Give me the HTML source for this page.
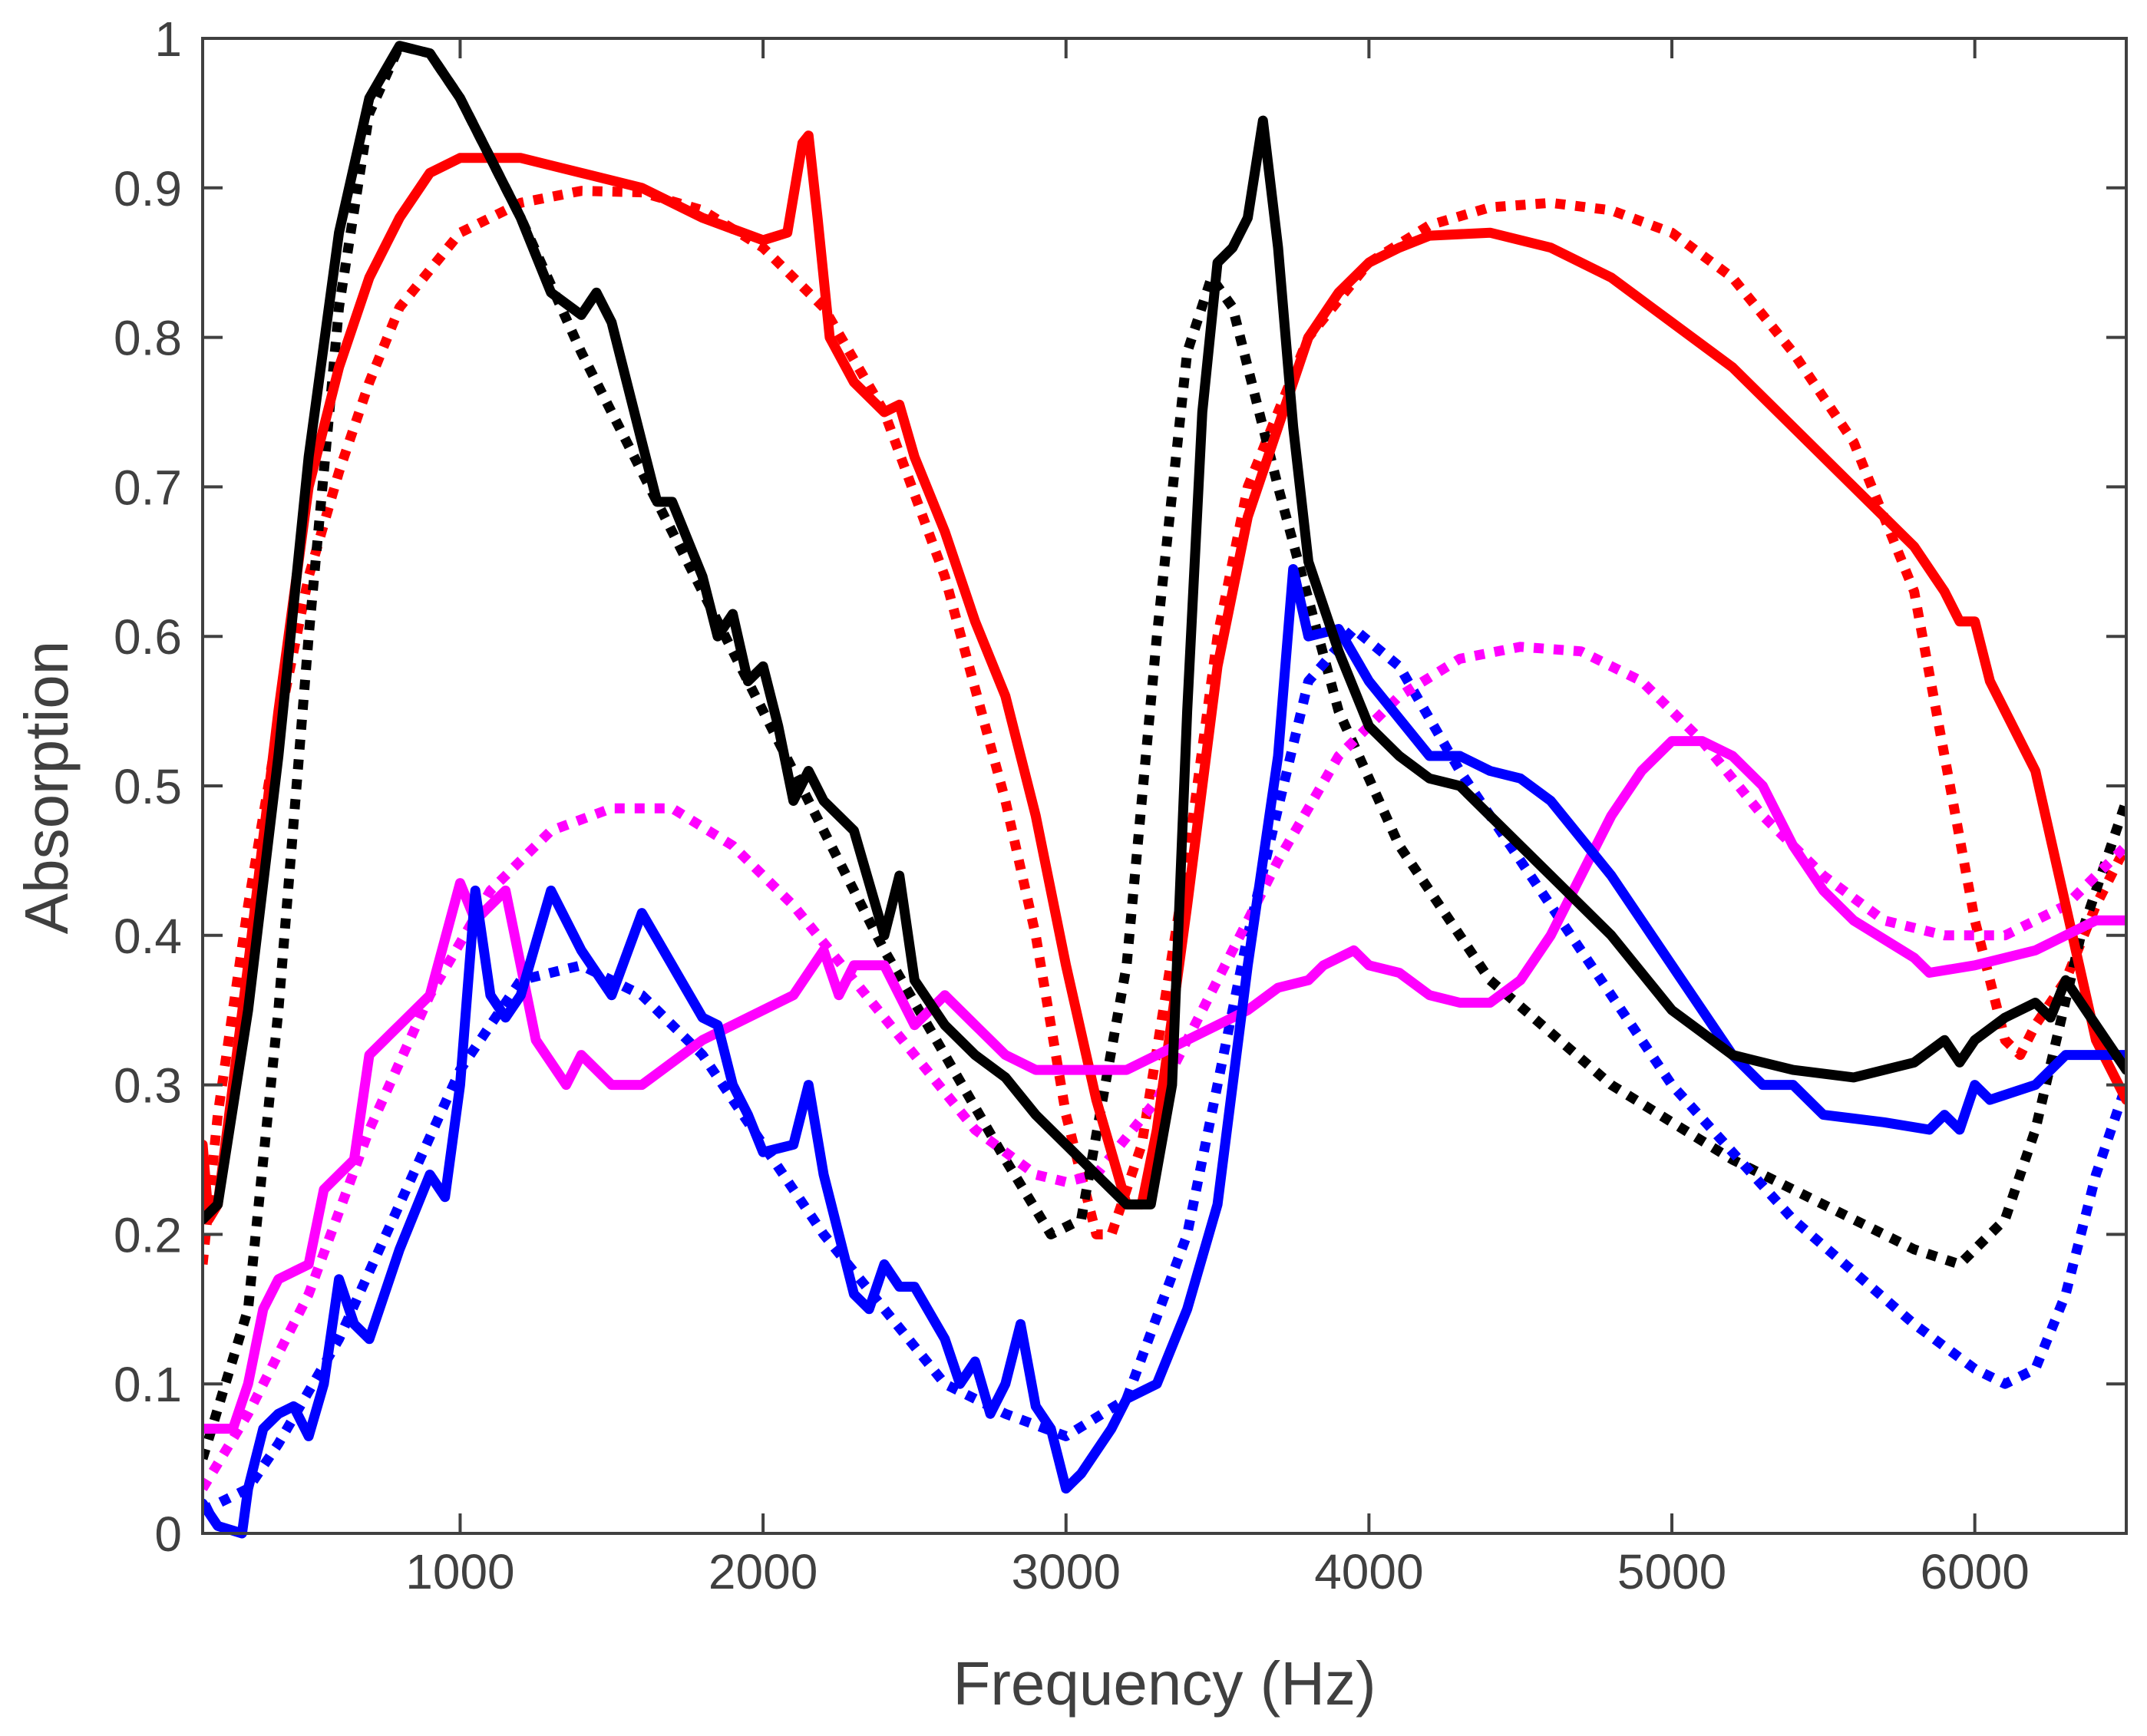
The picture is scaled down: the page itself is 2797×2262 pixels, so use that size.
<!DOCTYPE html>
<html><head><meta charset="utf-8"><style>
html,body{margin:0;padding:0;background:#fff}
svg{display:block}
text{font-family:"Liberation Sans",Arial,sans-serif;fill:#404040}
</style></head><body>
<svg id="chart" width="2797" height="2262" viewBox="0 0 2797 2262" xmlns="http://www.w3.org/2000/svg">
<g id="series"></g>
<g id="axes"></g>
<text x="1517" y="2221" font-size="80" text-anchor="middle">Frequency (Hz)</text>
<text transform="translate(88,1026) rotate(-90)" font-size="80" text-anchor="middle">Absorption</text>
</svg>
<script>
const xTicks=[1000,2000,3000,4000,5000,6000];
const yTicks=[0,0.1,0.2,0.3,0.4,0.5,0.6,0.7,0.8,0.9,1];
const yTickLabels=["0","0.1","0.2","0.3","0.4","0.5","0.6","0.7","0.8","0.9","1"];
const redSolidF=[150,170,200,300,400,500,600,700,800,900,1000,1200,1400,1600,1800,2000,2080,2130,2150,2180,2220,2300,2400,2450,2500,2600,2700,2800,2900,3000,3100,3200,3250,3300,3400,3500,3600,3700,3800,3900,4000,4100,4200,4400,4600,4800,5000,5200,5400,5600,5800,5900,5950,6000,6050,6200,6300,6400,6500];
const redSolidV=[0.26,0.21,0.22,0.38,0.55,0.70,0.78,0.84,0.88,0.91,0.92,0.92,0.91,0.90,0.88,0.865,0.87,0.93,0.935,0.88,0.80,0.77,0.75,0.755,0.72,0.67,0.61,0.56,0.48,0.38,0.29,0.22,0.22,0.27,0.42,0.58,0.68,0.74,0.80,0.83,0.85,0.86,0.868,0.87,0.86,0.84,0.81,0.78,0.74,0.70,0.66,0.63,0.61,0.61,0.57,0.51,0.42,0.33,0.29];
const redDotF=[150,200,300,400,500,600,700,800,1000,1200,1400,1600,1800,2000,2200,2400,2600,2800,2900,3000,3100,3150,3250,3400,3500,3600,3800,4000,4200,4400,4600,4800,5000,5200,5400,5600,5800,5900,6000,6100,6150,6200,6300,6400,6500];
const redDotV=[0.18,0.28,0.42,0.54,0.64,0.71,0.77,0.82,0.87,0.89,0.898,0.897,0.885,0.86,0.82,0.75,0.64,0.49,0.40,0.28,0.20,0.20,0.26,0.45,0.60,0.70,0.80,0.85,0.875,0.887,0.89,0.885,0.87,0.84,0.79,0.73,0.63,0.52,0.41,0.33,0.32,0.34,0.37,0.42,0.46];
const blackSolidF=[150,200,300,400,500,600,700,800,900,1000,1100,1200,1300,1400,1450,1500,1600,1650,1700,1800,1850,1900,1950,2000,2050,2100,2150,2200,2300,2400,2450,2500,2600,2700,2800,2900,3000,3100,3200,3280,3350,3400,3450,3500,3550,3600,3650,3700,3750,3800,3900,4000,4100,4200,4300,4400,4600,4800,5000,5200,5400,5600,5800,5900,5950,6000,6100,6200,6250,6300,6400,6500];
const blackSolidV=[0.21,0.22,0.35,0.52,0.72,0.87,0.96,0.995,0.99,0.96,0.92,0.88,0.83,0.815,0.83,0.81,0.73,0.69,0.69,0.64,0.60,0.615,0.57,0.58,0.54,0.49,0.51,0.49,0.47,0.40,0.44,0.37,0.34,0.32,0.305,0.28,0.26,0.24,0.22,0.22,0.30,0.55,0.75,0.85,0.86,0.88,0.945,0.86,0.74,0.65,0.59,0.54,0.52,0.505,0.50,0.48,0.44,0.40,0.35,0.32,0.31,0.305,0.315,0.33,0.315,0.33,0.345,0.355,0.345,0.37,0.34,0.31];
const blackDotF=[150,300,400,500,600,700,800,900,1000,1200,1400,1600,1800,2000,2200,2400,2600,2800,2950,3050,3200,3300,3400,3480,3550,3700,3900,4100,4400,4800,5200,5600,5800,5950,6100,6200,6350,6500];
const blackDotV=[0.05,0.15,0.35,0.60,0.82,0.95,0.995,0.99,0.96,0.88,0.79,0.71,0.63,0.55,0.47,0.39,0.32,0.25,0.20,0.21,0.38,0.60,0.79,0.84,0.82,0.70,0.55,0.46,0.37,0.30,0.25,0.21,0.19,0.18,0.21,0.27,0.40,0.49];
const blueSolidF=[150,200,280,300,350,400,450,500,550,600,650,700,800,900,950,1000,1050,1100,1150,1200,1300,1400,1500,1600,1700,1800,1850,1900,1950,2000,2100,2150,2200,2300,2350,2400,2450,2500,2600,2650,2700,2750,2800,2850,2900,2950,3000,3050,3150,3200,3300,3400,3500,3600,3700,3750,3800,3900,4000,4200,4300,4400,4500,4600,4800,5000,5200,5300,5400,5500,5700,5850,5900,5950,6000,6050,6200,6300,6400,6500];
const blueSolidV=[0.02,0.005,0.0,0.03,0.07,0.08,0.085,0.065,0.10,0.17,0.14,0.13,0.19,0.24,0.225,0.30,0.43,0.36,0.345,0.36,0.43,0.39,0.36,0.415,0.38,0.345,0.34,0.30,0.28,0.255,0.26,0.30,0.24,0.16,0.15,0.18,0.165,0.165,0.13,0.10,0.115,0.08,0.10,0.14,0.085,0.07,0.03,0.04,0.07,0.09,0.10,0.15,0.22,0.38,0.52,0.645,0.60,0.605,0.57,0.52,0.52,0.51,0.505,0.49,0.44,0.38,0.32,0.30,0.30,0.28,0.275,0.27,0.28,0.27,0.30,0.29,0.30,0.32,0.32,0.32];
const blueDotF=[150,300,400,600,800,1000,1200,1400,1600,1800,2000,2200,2400,2600,2800,3000,3200,3400,3600,3800,3950,4100,4300,4600,5000,5400,5800,6000,6100,6200,6300,6400,6500];
const blueDotV=[0.015,0.03,0.06,0.13,0.22,0.31,0.37,0.38,0.36,0.32,0.26,0.20,0.15,0.10,0.08,0.065,0.09,0.20,0.40,0.57,0.605,0.58,0.51,0.42,0.30,0.21,0.14,0.11,0.10,0.11,0.16,0.24,0.30];
const magSolidF=[150,250,300,350,400,500,550,650,700,800,900,1000,1050,1100,1150,1200,1250,1350,1400,1500,1600,1700,1800,2000,2100,2200,2250,2300,2400,2500,2600,2700,2800,2900,3000,3200,3400,3500,3600,3700,3800,3850,3950,4000,4100,4200,4300,4400,4500,4600,4700,4800,4900,5000,5100,5200,5300,5400,5500,5600,5800,5850,6000,6200,6300,6400,6500];
const magSolidV=[0.07,0.07,0.10,0.15,0.17,0.18,0.23,0.25,0.32,0.34,0.36,0.435,0.41,0.42,0.43,0.38,0.33,0.30,0.32,0.30,0.30,0.315,0.33,0.35,0.36,0.39,0.36,0.38,0.38,0.34,0.36,0.34,0.32,0.31,0.31,0.31,0.33,0.34,0.35,0.365,0.37,0.38,0.39,0.38,0.375,0.36,0.355,0.355,0.37,0.40,0.44,0.48,0.51,0.53,0.53,0.52,0.50,0.46,0.43,0.41,0.385,0.375,0.38,0.39,0.40,0.41,0.41];
const magDotF=[150,300,500,700,900,1100,1300,1500,1700,1900,2100,2300,2500,2700,2900,3000,3100,3300,3500,3700,3900,4100,4300,4500,4700,4900,5100,5300,5500,5700,5900,6100,6300,6500];
const magDotV=[0.03,0.08,0.16,0.27,0.36,0.43,0.47,0.485,0.485,0.46,0.42,0.37,0.32,0.27,0.24,0.235,0.24,0.29,0.37,0.45,0.52,0.56,0.585,0.593,0.59,0.57,0.53,0.48,0.44,0.41,0.40,0.40,0.42,0.46];

const L=264,R=2770,T=50,B=1998,XMIN=150,XMAX=6500;
const sx=f=>L+(f-XMIN)/(XMAX-XMIN)*(R-L);
const sy=v=>B-v*(B-T);
const NS="http://www.w3.org/2000/svg";
const sg=document.getElementById('series'), ag=document.getElementById('axes');
const clip=document.createElementNS(NS,'clipPath');clip.id='pc';
const cr=document.createElementNS(NS,'rect');cr.setAttribute('x',L);cr.setAttribute('y',T-10);cr.setAttribute('width',R-L);cr.setAttribute('height',B-T+20);
clip.appendChild(cr);sg.appendChild(clip);sg.setAttribute('clip-path','url(#pc)');
function line(F,V,color,dotted,name){
  const p=document.createElementNS(NS,'polyline');
  p.setAttribute('points',F.map((f,i)=>sx(f).toFixed(1)+','+sy(V[i]).toFixed(1)).join(' '));
  p.setAttribute('fill','none');p.setAttribute('stroke',color);
  p.setAttribute('stroke-width','13');p.setAttribute('stroke-linejoin','round');
  if(dotted){p.setAttribute('stroke-dasharray','13 13');}else{p.setAttribute('stroke-linecap','round');}
  
  
  sg.appendChild(p);
}
line(redDotF,redDotV,'#ff0000',true,'red-dotted-line');
line(blackDotF,blackDotV,'#000000',true,'black-dotted-line');
line(blueDotF,blueDotV,'#0000ff',true,'blue-dotted-line');
line(magDotF,magDotV,'#ff00ff',true,'magenta-dotted-line');
line(redSolidF,redSolidV,'#ff0000',false,'red-solid-line');
line(magSolidF,magSolidV,'#ff00ff',false,'magenta-solid-line');
line(blueSolidF,blueSolidV,'#0000ff',false,'blue-solid-line');
line(blackSolidF,blackSolidV,'#000000',false,'black-solid-line');
function el(tag,attrs){const e=document.createElementNS(NS,tag);for(const k in attrs)e.setAttribute(k,attrs[k]);ag.appendChild(e);return e;}
const box=el('rect',{x:L,y:T,width:R-L,height:B-T,fill:'none',stroke:'#404040','stroke-width':4});


xTicks.forEach(f=>{
  const x=sx(f);
  const t1=el('line',{x1:x,y1:B,x2:x,y2:B-26,stroke:'#404040','stroke-width':4});
  
  
  const t2=el('line',{x1:x,y1:T,x2:x,y2:T+26,stroke:'#404040','stroke-width':4});
  
  
  const tx=el('text',{x:x,y:2070,'font-size':64,'text-anchor':'middle'});tx.textContent=f;
  
  
});
yTicks.forEach((v,i)=>{
  const y=sy(v);
  const t1=el('line',{x1:L,y1:y,x2:L+26,y2:y,stroke:'#404040','stroke-width':4});
  
  
  const t2=el('line',{x1:R,y1:y,x2:R-26,y2:y,stroke:'#404040','stroke-width':4});
  
  
  const tx=el('text',{x:237,y:y+23,'font-size':64,'text-anchor':'end'});tx.textContent=yTickLabels[i];
  
  
});
</script>
</body></html>
